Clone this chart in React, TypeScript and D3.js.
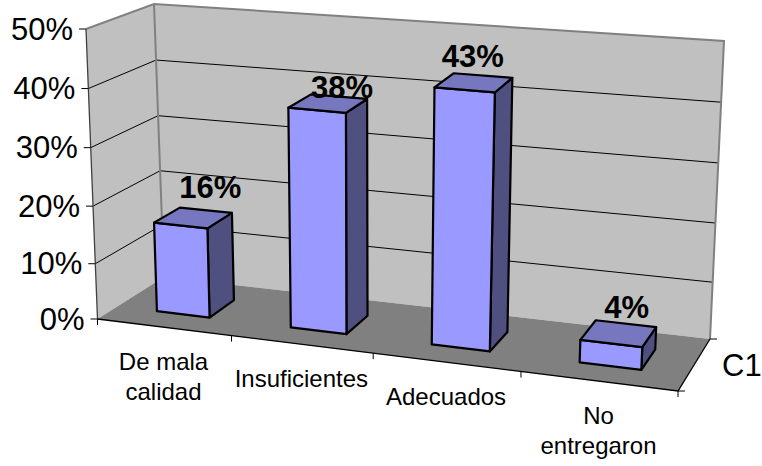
import React from "react";
import * as d3 from "d3";

const categories: string[][] = [["De mala", "calidad"], ["Insuficientes"], ["Adecuados"], ["No", "entregaron"]];
const values = [0.16, 0.38, 0.435, 0.04];
const valueLabels = ["16%", "38%", "43%", "4%"];
const yTicks = [0, 0.1, 0.2, 0.3, 0.4, 0.5];
const seriesName = "C1";

const W = 762, H = 466;
type Pt = [number, number];
// projected corners of the chart box: front/back, left/right, bottom/top
const FLB: Pt = [97.5, 319], FRB: Pt = [678, 391], BLB: Pt = [164, 277], BRB: Pt = [710, 339];
const FLT: Pt = [86, 29], FRT: Pt = [693, 81], BLT: Pt = [154, 4], BRT: Pt = [724, 41];

const uScale = d3.scaleLinear().domain([0, 1, 2, 3, 4]).range([0, 0.2308, 0.4749, 0.7295, 1]);
const tScale = d3.scalePow().exponent(1.03).domain([0, 0.5]).range([0, 1]);
const mix = (a: Pt, b: Pt, k: number): Pt => [a[0] + (b[0] - a[0]) * k, a[1] + (b[1] - a[1]) * k];
function P(u: number, d: number, v: number): Pt {
  const f = uScale(u), t = tScale(v);
  const bottom = mix(mix(FLB, FRB, f), mix(BLB, BRB, f), d);
  const top = mix(mix(FLT, FRT, f), mix(BLT, BRT, f), d);
  return mix(bottom, top, t);
}
const poly = (pts: Pt[]) => d3.line()(pts)! + "Z";
const seg = (a: Pt, b: Pt) => d3.line()([a, b])!;

const labelOffset: Pt[] = [[17, -20], [14, -5], [-1, -16], [8, -16]];
const FONT = "'Liberation Sans', Arial, sans-serif";
const barU = [0.3, 0.7], barD = [0.3, 0.7];

export default function App() {
  return (
    <svg width={W} height={H} style={{ position: "absolute", left: 0, top: 0, background: "#fff" }} fontFamily={FONT}>
      <path d={poly([FLB, BLB, BLT, FLT])} fill="#C0C0C0" />
      <path d={poly([BLB, BRB, BRT, BLT])} fill="#C0C0C0" />
      <path d={poly([FLB, FRB, BRB, BLB])} fill="#808080" />
      {yTicks.slice(1, -1).map((v) => (
        <path key={v} d={d3.line()([P(0, 0, v), P(0, 1, v), P(4, 1, v)])!} fill="none" stroke="#000" strokeWidth={1} />
      ))}
      <path d={d3.line()([FLT, BLT, BRT, BRB])!} fill="none" stroke="#808080" strokeWidth={2} />
      <path d={seg(BLT, BLB)} stroke="#808080" strokeWidth={2} />
      <path d={seg(FLT, FLB)} stroke="#404040" strokeWidth={1.3} />
      <path d={d3.line()([FLB, FRB, BRB])!} fill="none" stroke="#000" strokeWidth={1.3} />
      {yTicks.map((v) => {
        const p = P(0, 0, v);
        return (
          <g key={v}>
            <path d={seg(p, [p[0] - 7, p[1]])} stroke="#000" strokeWidth={1} />
            <text x={p[0] - 13} y={p[1] + 10.5} textAnchor="end" fontSize={31} fill="#000">{d3.format(".0%")(v)}</text>
          </g>
        );
      })}
      {d3.range(0, 5).map((i) => {
        const p = P(i, 0, 0);
        return <path key={i} d={seg(p, [p[0], p[1] + 6])} stroke="#000" strokeWidth={1} />;
      })}
      <path d={seg(BRB, [BRB[0] + 7, BRB[1]])} stroke="#000" strokeWidth={1} />
      <path d={seg(FRB, [FRB[0] + 7, FRB[1]])} stroke="#000" strokeWidth={1} />
      {categories.map((lines, i) => {
        const m = P(i + 0.5, 0, 0);
        return lines.map((line, j) => (
          <text key={line} x={m[0] - 1} y={m[1] + 43 + j * 30} textAnchor="middle" fontSize={24} fill="#000">{line}</text>
        ));
      })}
      {values.map((v, i) => {
        const [u0, u1] = barU.map((k) => i + k);
        const [d0, d1] = barD;
        const face = poly([P(u0, d0, 0), P(u1, d0, 0), P(u1, d0, v), P(u0, d0, v)]);
        const side = poly([P(u1, d0, 0), P(u1, d1, 0), P(u1, d1, v), P(u1, d0, v)]);
        const top = poly([P(u0, d0, v), P(u1, d0, v), P(u1, d1, v), P(u0, d1, v)]);
        const style = { stroke: "#000", strokeWidth: 2.2, strokeLinejoin: "round" as const };
        return (
          <g key={i}>
            <path d={side} fill="#4F4F80" {...style} />
            <path d={face} fill="#9999FF" {...style} />
            <path d={top} fill="#7777BF" {...style} />
          </g>
        );
      })}
      {values.map((v, i) => {
        const c = P(i + 0.5, 0.5, v);
        return (
          <text key={i} x={c[0] + labelOffset[i][0]} y={c[1] + labelOffset[i][1]} textAnchor="middle" fontSize={31} fontWeight="bold" fill="#000">{valueLabels[i]}</text>
        );
      })}
      <text x={722} y={376} fontSize={31} fill="#000">{seriesName}</text>
    </svg>
  );
}
